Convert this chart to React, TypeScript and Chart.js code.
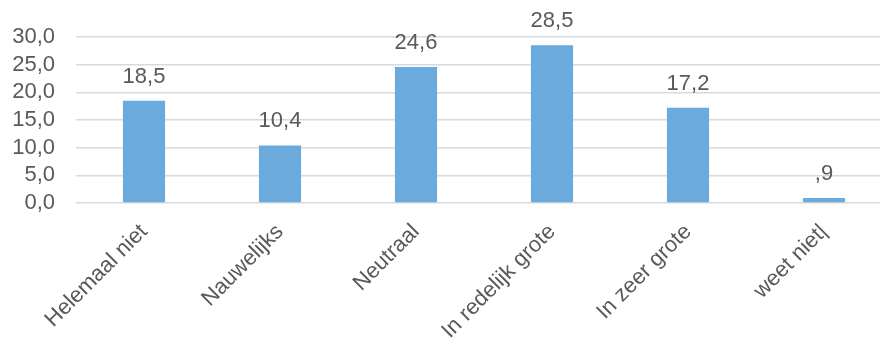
import React, { useEffect, useRef } from "react";
import { Chart, registerables } from "chart.js";

Chart.register(...registerables);

const categories = [
  "Helemaal niet",
  "Nauwelijks",
  "Neutraal",
  "In redelijk grote",
  "In zeer grote",
  "weet niet|",
];
const percentages = [18.5, 10.4, 24.6, 28.5, 17.2, 0.9];
const yTicks = [0, 5, 10, 15, 20, 25, 30];

const TEXT = "#595959";
const FONT = "'Liberation Sans', Arial, sans-serif";

// Excel style "#,0" formatting: comma decimal, leading zero dropped for labels
const fmtAxis = (v: number) => v.toFixed(1).replace(".", ",");
const fmtLabel = (v: number) => fmtAxis(v).replace(/^0,/, ",");

const valueLabels = {
  id: "valueLabels",
  afterDatasetsDraw(chart: any) {
    const { ctx } = chart;
    const meta = chart.getDatasetMeta(0);
    ctx.save();
    ctx.font = `22px ${FONT}`;
    ctx.fillStyle = TEXT;
    ctx.textAlign = "center";
    ctx.textBaseline = "alphabetic";
    meta.data.forEach((bar: any, i: number) => {
      ctx.fillText(fmtLabel(percentages[i]), bar.x, bar.y - 18);
    });
    ctx.restore();
  },
};

export default function App() {
  const canvasRef = useRef<HTMLCanvasElement>(null);

  useEffect(() => {
    if (!canvasRef.current) return;
    const chart = new Chart(canvasRef.current, {
      type: "bar",
      data: {
        labels: categories,
        datasets: [
          {
            data: percentages,
            backgroundColor: "#6aaadd",
            borderWidth: 0,
            barPercentage: 0.31,
            categoryPercentage: 1,
          },
        ],
      },
      options: {
        animation: false,
        responsive: true,
        maintainAspectRatio: false,
        layout: { padding: { top: 37, right: 8, left: 0, bottom: 0 } },
        plugins: {
          legend: { display: false },
          tooltip: { enabled: false },
        },
        scales: {
          x: {
            grid: { display: false },
            border: { display: false },
            afterFit: (scale: any) => {
              scale.height = 147;
            },
            ticks: {
              autoSkip: false,
              minRotation: 45,
              maxRotation: 45,
              padding: 8,
              color: TEXT,
              font: { family: FONT, size: 22 },
            },
          },
          y: {
            min: 0,
            max: 30,
            afterFit: (scale: any) => {
              scale.width = 76;
            },
            afterBuildTicks: (scale: any) => {
              scale.ticks = yTicks.map((value) => ({ value }));
            },
            grid: { color: "#d9d9d9", lineWidth: 1.5, drawTicks: false },
            border: { display: false },
            ticks: {
              autoSkip: false,
              padding: 21,
              color: TEXT,
              font: { family: FONT, size: 22 },
              callback: (v: any) => fmtAxis(Number(v)),
            },
          },
        },
      },
      plugins: [valueLabels],
    });
    return () => chart.destroy();
  }, []);

  return (
    <div
      style={{
        position: "fixed",
        left: 0,
        top: 0,
        width: 880,
        height: 350,
        overflow: "hidden",
        background: "#ffffff",
      }}
    >
      <div style={{ position: "relative", width: 900, height: 350 }}>
        <canvas ref={canvasRef} />
      </div>
    </div>
  );
}
